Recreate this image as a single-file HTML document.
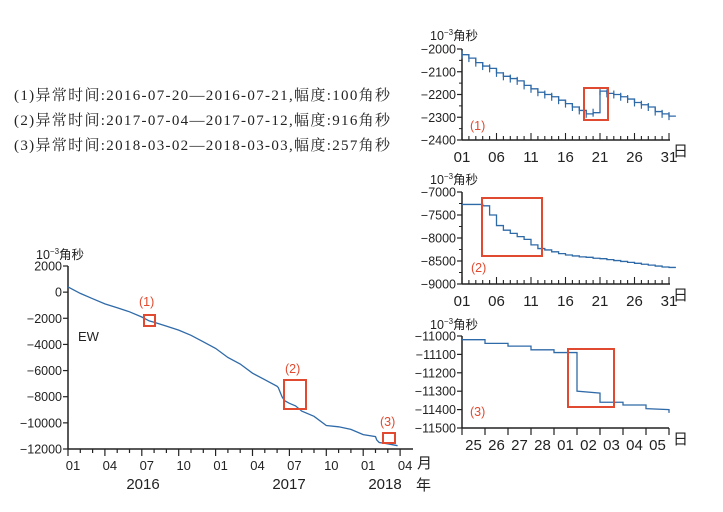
<!DOCTYPE html>
<html><head><meta charset="utf-8">
<style>
body{margin:0;background:#fff;}
svg{display:block;}
.ann{font-family:"Liberation Serif","Noto Serif CJK SC",serif;font-size:15px;fill:#222;}
.t{font-family:"Liberation Sans","Noto Sans CJK SC",sans-serif;fill:#222;}
</style></head>
<body>
<svg id="c" width="723" height="512" xmlns="http://www.w3.org/2000/svg">
<text class="ann" x="14" y="100" textLength="376" lengthAdjust="spacing">(1)异常时间:2016-07-20—2016-07-21,幅度:100角秒</text>
<text class="ann" x="14" y="125" textLength="376" lengthAdjust="spacing">(2)异常时间:2017-07-04—2017-07-12,幅度:916角秒</text>
<text class="ann" x="14" y="150" textLength="376" lengthAdjust="spacing">(3)异常时间:2018-03-02—2018-03-03,幅度:257角秒</text>
</svg>
<script>
// Main chart data (month index from 2016-01)
const mainMonths=[0,1,2,3,4,5,6,6.6,7,8,9,10,11,12,13,14,15,16,17,17.1,17.4,17.6,18,18.5,19,20,21,22,23,24,25,25.1,25.3,26,26.8];
const mainValues=[400,-100,-500,-900,-1200,-1500,-1900,-2200,-2300,-2600,-2900,-3300,-3800,-4300,-5000,-5500,-6200,-6700,-7200,-7300,-8000,-8300,-8500,-8700,-9100,-9500,-10200,-10300,-10500,-10900,-11050,-11300,-11500,-11600,-11750];
const mainYTicks=[2000,0,-2000,-4000,-6000,-8000,-10000,-12000];
const mainXLabels=["01","04","07","10","01","04","07","10","01","04"];
// Subplot 1 (2016-07)
const s1Values=[-2025,-2040,-2060,-2075,-2085,-2105,-2120,-2130,-2140,-2160,-2175,-2190,-2200,-2210,-2225,-2240,-2255,-2270,-2285,-2280,-2185,-2195,-2200,-2210,-2220,-2235,-2245,-2255,-2275,-2285,-2295];
const s1YTicks=[-2000,-2100,-2200,-2300,-2400];
// Subplot 2 (2017-07)
const s2Values=[-7270,-7270,-7270,-7300,-7500,-7730,-7830,-7900,-7970,-8030,-8150,-8230,-8260,-8300,-8340,-8370,-8390,-8410,-8420,-8440,-8450,-8470,-8490,-8510,-8530,-8550,-8570,-8590,-8610,-8630,-8640];
const s2YTicks=[-7000,-7500,-8000,-8500,-9000];
const dayLabels=["01","06","11","16","21","26","31"];
// Subplot 3 (2018-02-25 .. 03-05)
const s3Days=["25","26","27","28","01","02","03","04","05"];
const s3Start=[-11020,-11040,-11055,-11075,-11090,-11300,-11360,-11375,-11395];
const s3End=[-11020,-11040,-11055,-11075,-11090,-11310,-11360,-11375,-11400];
const s3YTicks=[-11000,-11100,-11200,-11300,-11400,-11500];

const svg=document.getElementById('c');
const NS='http://www.w3.org/2000/svg';
function el(tag,attrs,text){const e=document.createElementNS(NS,tag);for(const k in attrs)e.setAttribute(k,attrs[k]);if(text!==undefined)e.textContent=text;svg.appendChild(e);return e;}
const AX='#222',LC='#2f6aa8',RC='#e04a30';

function yAxis(x,y0,y1,ticks,sy,name,minor){
  let a=el('line',{x1:x,y1:y0,x2:x,y2:y1,stroke:AX,'stroke-width':1.5});
  
  ticks.forEach((v,i)=>{
    el('line',{x1:x-5,y1:sy(v),x2:x,y2:sy(v),stroke:AX,'stroke-width':1.2});
    if(minor&&i<ticks.length-1){const m=(v+ticks[i+1])/2;el('line',{x1:x-3,y1:sy(m),x2:x,y2:sy(m),stroke:AX,'stroke-width':1});}
    let t=el('text',{x:x-6,y:sy(v)+4.5,'text-anchor':'end','font-size':12.5,class:'t'},String(v).replace('-','−'));
    
  });
}
function unit(x,y,name){let t=el('text',{x:x,y:y,'font-size':12.5,class:'t'});t.innerHTML='10<tspan dy="-5" font-size="8">−3</tspan><tspan dy="5">角秒</tspan>';}
function box(x1,y1,x2,y2,name){let r=el('rect',{x:x1,y:y1,width:x2-x1,height:y2-y1,fill:'none',stroke:RC,'stroke-width':2});}
function lbl(x,y,s,name){let t=el('text',{x:x,y:y,'font-size':12.5,fill:RC,'font-family':'"Liberation Sans",sans-serif'},s);}

// ===== main chart =====
const mx=m=>68+m*12.3, my=v=>266+(2000-v)*183/14000;
yAxis(68,266,449,mainYTicks,my,'main',false);
let xa=el('line',{x1:68,y1:449,x2:413,y2:449,stroke:AX,'stroke-width':1.5});

for(let m=0;m<=27;m++){const maj=m%3===0;el('line',{x1:mx(m),y1:449,x2:mx(m),y2:449+(maj?7:4),stroke:AX,'stroke-width':1.2});}
mainXLabels.forEach((s,i)=>{let t=el('text',{x:mx(i*3)+5,y:470,'text-anchor':'middle','font-size':13,class:'t'},s);});
[["2016",143],["2017",289],["2018",385]].forEach(([s,x])=>{let t=el('text',{x:x,y:489,'text-anchor':'middle','font-size':15,class:'t'},s);});
let yu=el('text',{x:417,y:468,'font-size':15,class:'t'},'月');
let ny=el('text',{x:416,y:490,'font-size':15,class:'t'},'年');
unit(36,259,'main');
let ew=el('text',{x:78,y:341,'font-size':13,class:'t'},'EW');
let pts=mainMonths.map((m,i)=>mx(m).toFixed(1)+','+my(mainValues[i]).toFixed(1)).join(' ');
let ml=el('polyline',{points:pts,fill:'none',stroke:LC,'stroke-width':1.3});

box(144,315,155,326,'main-box-1');box(284,380,306,409,'main-box-2');box(383,433,395,443,'main-box-3');
lbl(139,306,'(1)','main-label-1');lbl(285,373,'(2)','main-label-2');lbl(380,426,'(3)','main-label-3');

// ===== day subplots =====
function daySub(vals,ticks,top,bot,name,marks){
  const v0=ticks[0],v1=ticks[ticks.length-1];
  const sx=d=>462+(d-1)*6.9, sy=v=>top+(v0-v)*(bot-top)/(v0-v1);
  yAxis(462,top,bot,ticks,sy,name,true);
  let a=el('line',{x1:462,y1:bot,x2:670,y2:bot,stroke:AX,'stroke-width':1.5});
  
  for(let d=1;d<=31;d++){const maj=(d-1)%5===0||d===31;el('line',{x1:sx(d),y1:bot,x2:sx(d),y2:bot-(maj?7:4),stroke:AX,'stroke-width':1.1});}
  dayLabels.forEach(s=>{let t=el('text',{x:sx(+s),y:bot+22,'text-anchor':'middle','font-size':15,class:'t'},s);});
  let r=el('text',{x:673,y:bot+16,'font-size':15,class:'t'},'日');
  let d='';
  vals.forEach((v,i)=>{const x=sx(i+1),y=sy(v);d+=(i?'L':'M')+x+','+y+' L'+(x+6.9)+','+y+' ';});
  let p=el('path',{d:d,fill:'none',stroke:LC,'stroke-width':1.3});
  
  if(marks)vals.forEach((v,i)=>{let m=el('line',{x1:sx(i+1),y1:sy(v)-4,x2:sx(i+1),y2:sy(v)+4,stroke:LC,'stroke-width':1.2});});
}
unit(430,40,'sub1');
daySub(s1Values,s1YTicks,49,140,'sub1',true);
box(584,88,608,120,'sub1-box');lbl(470,130,'(1)','sub1-label');
unit(430,184,'sub2');
daySub(s2Values,s2YTicks,192,284,'sub2',false);
box(482,198,542,256,'sub2-box');lbl(471,272,'(2)','sub2-label');

// ===== subplot 3 =====
(function(){
  const top=336,bot=428,v0=-11000,v1=-11500;
  const sx=i=>462+i*23, sy=v=>top+(v0-v)*(bot-top)/(v0-v1);
  unit(430,329,'sub3');
  yAxis(462,top,bot,s3YTicks,sy,'sub3',false);
  let a=el('line',{x1:462,y1:bot,x2:669,y2:bot,stroke:AX,'stroke-width':1.5});
  
  for(let i=0;i<=9;i++)el('line',{x1:sx(i),y1:bot,x2:sx(i),y2:bot+7,stroke:AX,'stroke-width':1.2});
  s3Days.forEach((s,i)=>{let t=el('text',{x:sx(i)+11.5,y:bot+22,'text-anchor':'middle','font-size':15,class:'t'},s);});
  let r=el('text',{x:673,y:bot+16,'font-size':15,class:'t'},'日');
  let d='';
  s3Start.forEach((v,i)=>{d+=(i?'L':'M')+sx(i)+','+sy(v)+' L'+sx(i+1)+','+sy(s3End[i])+' ';});
  d+='L'+sx(9)+','+sy(-11418);
  let p=el('path',{d:d,fill:'none',stroke:LC,'stroke-width':1.3});
  
  box(568,349,614,407,'sub3-box');lbl(470,416,'(3)','sub3-label');
})();
</script>
</body></html>
